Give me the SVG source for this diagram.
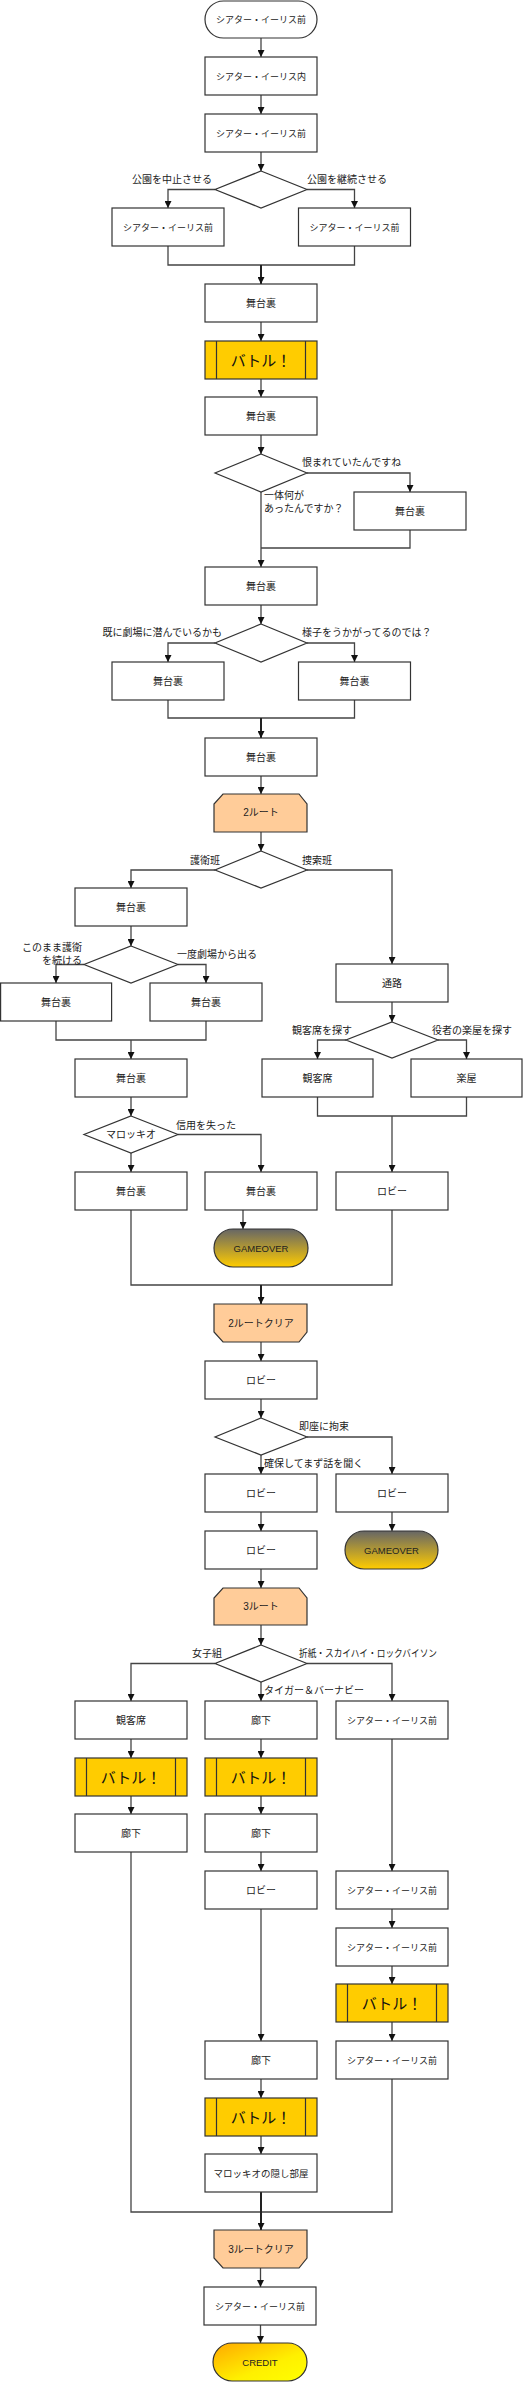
<svg xmlns="http://www.w3.org/2000/svg" width="530" height="2382" viewBox="0 0 530 2382">
<style>
text{font-family:"Liberation Sans","Noto Sans CJK JP",sans-serif;fill:#222;}
.t{font-size:10px;text-anchor:middle;}
.l9{font-size:9px;}
.lb{font-size:10px;}
.e{text-anchor:end;}
.big{font-size:15px;text-anchor:middle;fill:#111;}
.box{fill:#fff;stroke:#333;stroke-width:1.2;}
.bat{fill:#FFCC00;stroke:#333;stroke-width:1.2;}
.rt{fill:#FFCC99;stroke:#333;stroke-width:1.2;}
.dm{fill:#fff;stroke:#333;stroke-width:1.2;}
.c{fill:none;stroke:#444;stroke-width:1.3;}
.ca{fill:none;stroke:#444;stroke-width:1.3;marker-end:url(#ah);}
.cb{fill:none;stroke:#222;stroke-width:2;marker-end:url(#ah);}
</style>
<defs>
<marker id="ah" markerUnits="userSpaceOnUse" markerWidth="7" markerHeight="7" refX="7" refY="3.5" orient="auto"><path d="M0,0 L7,3.5 L0,7 z" fill="#111"/></marker>
<linearGradient id="go" x1="0" y1="0" x2="0" y2="1"><stop offset="0" stop-color="#666"/><stop offset="1" stop-color="#FFCC00"/></linearGradient>
<linearGradient id="cr" x1="0" y1="0" x2="1" y2="1"><stop offset="0" stop-color="#FFA800"/><stop offset="0.6" stop-color="#FFF000"/><stop offset="1" stop-color="#FFFF00"/></linearGradient>
</defs>
<rect width="530" height="2382" fill="#fff"/>

<g id="connectors">
<path class="ca" d="M261,38 V57"/>
<path class="ca" d="M261,95 V114"/>
<path class="ca" d="M261,152 V171"/>
<path class="ca" d="M215,189.5 H168 V208"/>
<path class="ca" d="M307,189.5 H354.5 V208"/>
<path class="c" d="M168,246 V265 H354.5 V246"/>
<path class="cb" d="M261,265 V284"/>
<path class="ca" d="M261,322 V341"/>
<path class="ca" d="M261,379 V397"/>
<path class="ca" d="M261,435 V454"/>
<path class="ca" d="M307,473 H410 V492"/>
<path class="ca" d="M261,492 V567"/>
<path class="c" d="M410,530 V548 H261"/>
<path class="ca" d="M261,605 V624"/>
<path class="ca" d="M215,643 H168 V662"/>
<path class="ca" d="M307,643 H354.5 V662"/>
<path class="c" d="M168,700 V718 H354.5 V700"/>
<path class="cb" d="M261,718 V738"/>
<path class="ca" d="M261,776 V794"/>
<path class="ca" d="M261,832 V851"/>
<path class="ca" d="M215,870 H131 V888"/>
<path class="ca" d="M307,870 H392 V964"/>
<path class="ca" d="M131,926 V946"/>
<path class="ca" d="M84,964.5 H56 V983"/>
<path class="ca" d="M178,964.5 H206 V983"/>
<path class="c" d="M56,1021 V1040 H206 V1021"/>
<path class="ca" d="M131,1040 V1059"/>
<path class="ca" d="M131,1097 V1116"/>
<path class="ca" d="M178,1134.5 H261 V1172"/>
<path class="ca" d="M131,1153 V1172"/>
<path class="ca" d="M392,1002 V1022"/>
<path class="ca" d="M346,1040 H317.5 V1059"/>
<path class="ca" d="M438,1040 H466.5 V1059"/>
<path class="c" d="M317.5,1097 V1116 H466.5 V1097"/>
<path class="ca" d="M392,1116 V1172"/>
<path class="ca" d="M243,1210 V1229"/>
<path class="c" d="M131,1210 V1285 H392 V1210"/>
<path class="cb" d="M261,1285 V1304"/>
<path class="ca" d="M261,1342 V1361"/>
<path class="ca" d="M261,1399 V1418"/>
<path class="ca" d="M307,1437 H392 V1474"/>
<path class="ca" d="M261,1455 V1474"/>
<path class="ca" d="M261,1512 V1531"/>
<path class="ca" d="M392,1512 V1531"/>
<path class="ca" d="M261,1569 V1588"/>
<path class="ca" d="M261,1625 V1645"/>
<path class="ca" d="M215,1663.5 H131 V1701"/>
<path class="ca" d="M307,1663.5 H392 V1701"/>
<path class="ca" d="M261,1682 V1701"/>
<path class="ca" d="M131,1739 V1758"/>
<path class="ca" d="M261,1739 V1758"/>
<path class="ca" d="M392,1739 V1871"/>
<path class="ca" d="M131,1796 V1814"/>
<path class="ca" d="M261,1796 V1814"/>
<path class="ca" d="M261,1852 V1871"/>
<path class="ca" d="M261,1909 V2041"/>
<path class="ca" d="M392,1909 V1928"/>
<path class="ca" d="M392,1966 V1984"/>
<path class="ca" d="M392,2022 V2041"/>
<path class="ca" d="M261,2079 V2098"/>
<path class="ca" d="M261,2136 V2154"/>
<path class="c" d="M131,1852 V2212 H392 V2079"/>
<path class="cb" d="M261,2192 V2230"/>
<path class="ca" d="M260.5,2268 V2287"/>
<path class="ca" d="M260.5,2325 V2343"/>
</g>

<g id="labels">
<text class="lb e" x="212" y="183">公園を中止させる</text>
<text class="lb" x="307" y="183">公園を継続させる</text>
<text class="lb" x="302" y="466">恨まれていたんですね</text>
<text class="lb" x="264" y="499">一体何が</text>
<text class="lb" x="264" y="512">あったんですか？</text>
<text class="lb e" x="222" y="636">既に劇場に潜んでいるかも</text>
<text class="lb" x="302" y="636">様子をうかがってるのでは？</text>
<text class="lb e" x="220" y="864">護衛班</text>
<text class="lb" x="302" y="864">捜索班</text>
<text class="lb e" x="82" y="951">このまま護衛</text>
<text class="lb e" x="82" y="964">を続ける</text>
<text class="lb" x="177" y="958">一度劇場から出る</text>
<text class="lb" x="176" y="1129">信用を失った</text>
<text class="lb e" x="352" y="1034">観客席を探す</text>
<text class="lb" x="432" y="1034">役者の楽屋を探す</text>
<text class="lb" x="299" y="1430">即座に拘束</text>
<text class="lb" x="264" y="1467">確保してまず話を聞く</text>
<text class="lb e" x="222" y="1657">女子組</text>
<text class="lb" x="299" y="1657" textLength="138" lengthAdjust="spacingAndGlyphs">折紙・スカイハイ・ロックバイソン</text>
<text class="lb" x="264" y="1694">タイガー＆バーナビー</text>
</g>

<g id="n1"><rect x="205" y="1" width="112" height="37" rx="18.5" class="box"/><text class="t l9" x="261" y="23">シアター・イーリス前</text></g>
<g id="n2"><rect x="205" y="57" width="112" height="38" class="box"/><text class="t l9" x="261" y="79.5">シアター・イーリス内</text></g>
<g id="n3"><rect x="205" y="114" width="112" height="38" class="box"/><text class="t l9" x="261" y="136.5">シアター・イーリス前</text></g>
<g id="d1"><polygon points="261,171 307,189.5 261,208 215,189.5" class="dm"/></g>
<g id="n4"><rect x="112" y="208" width="112" height="38" class="box"/><text class="t l9" x="168" y="230.5">シアター・イーリス前</text></g>
<g id="n5"><rect x="298.5" y="208" width="112" height="38" class="box"/><text class="t l9" x="354.5" y="230.5">シアター・イーリス前</text></g>
<g id="n6"><rect x="205" y="284" width="112" height="38" class="box"/><text class="t" x="261" y="306.5">舞台裏</text></g>
<g id="b1"><rect x="205" y="341" width="112" height="38" class="bat"/><path d="M216.5,341 V379 M305.5,341 V379" stroke="#333" stroke-width="1.2"/><text class="big" x="261" y="365.5">バトル！</text></g>
<g id="n7"><rect x="205" y="397" width="112" height="38" class="box"/><text class="t" x="261" y="419.5">舞台裏</text></g>
<g id="d2"><polygon points="261,454 307,473 261,492 215,473" class="dm"/></g>
<g id="n8"><rect x="354" y="492" width="112" height="38" class="box"/><text class="t" x="410" y="514.5">舞台裏</text></g>
<g id="n9"><rect x="205" y="567" width="112" height="38" class="box"/><text class="t" x="261" y="589.5">舞台裏</text></g>
<g id="d3"><polygon points="261,624 307,643 261,662 215,643" class="dm"/></g>
<g id="n10"><rect x="112" y="662" width="112" height="38" class="box"/><text class="t" x="168" y="684.5">舞台裏</text></g>
<g id="n11"><rect x="298.5" y="662" width="112" height="38" class="box"/><text class="t" x="354.5" y="684.5">舞台裏</text></g>
<g id="n12"><rect x="205" y="738" width="112" height="38" class="box"/><text class="t" x="261" y="760.5">舞台裏</text></g>
<g id="r1"><polygon points="223,794 299,794 307,804 307,832 214,832 214,804" class="rt"/><text class="t" x="261" y="816">2ルート</text></g>
<g id="d4"><polygon points="261,851 307,870 261,888 215,870" class="dm"/></g>
<g id="n13"><rect x="75" y="888" width="112" height="38" class="box"/><text class="t" x="131" y="910.5">舞台裏</text></g>
<g id="n14"><rect x="336" y="964" width="112" height="38" class="box"/><text class="t" x="392" y="986.5">通路</text></g>
<g id="d5"><polygon points="131,946 178,964.5 131,983 84,964.5" class="dm"/></g>
<g id="n15"><rect x="0.6" y="983" width="111" height="38" class="box"/><text class="t" x="56" y="1005.5">舞台裏</text></g>
<g id="n16"><rect x="150" y="983" width="112" height="38" class="box"/><text class="t" x="206" y="1005.5">舞台裏</text></g>
<g id="n17"><rect x="75" y="1059" width="112" height="38" class="box"/><text class="t" x="131" y="1081.5">舞台裏</text></g>
<g id="d6"><polygon points="131,1116 178,1134.5 131,1153 84,1134.5" class="dm"/><text class="t" x="131" y="1138">マロッキオ</text></g>
<g id="n18"><rect x="75" y="1172" width="112" height="38" class="box"/><text class="t" x="131" y="1194.5">舞台裏</text></g>
<g id="n19"><rect x="205" y="1172" width="112" height="38" class="box"/><text class="t" x="261" y="1194.5">舞台裏</text></g>
<g id="d7"><polygon points="392,1022 438,1040 392,1058 346,1040" class="dm"/></g>
<g id="n20"><rect x="262" y="1059" width="111" height="38" class="box"/><text class="t" x="317.5" y="1081.5">観客席</text></g>
<g id="n21"><rect x="411" y="1059" width="111" height="38" class="box"/><text class="t" x="466.5" y="1081.5">楽屋</text></g>
<g id="n22"><rect x="336" y="1172" width="112" height="38" class="box"/><text class="t" x="392" y="1194.5">ロビー</text></g>
<g id="g1"><rect x="214" y="1229" width="94" height="38" rx="19" fill="url(#go)" stroke="#333" stroke-width="1.2"/><text class="t" x="261" y="1251.5" style="font-size:9.5px">GAMEOVER</text></g>
<g id="r2"><polygon points="214,1304 307,1304 307,1332 299,1342 223,1342 214,1332" class="rt"/><text class="t" x="261" y="1326.5">2ルートクリア</text></g>
<g id="n23"><rect x="205" y="1361" width="112" height="38" class="box"/><text class="t" x="261" y="1383.5">ロビー</text></g>
<g id="d8"><polygon points="261,1418 307,1437 261,1455 215,1437" class="dm"/></g>
<g id="n24"><rect x="205" y="1474" width="112" height="38" class="box"/><text class="t" x="261" y="1496.5">ロビー</text></g>
<g id="n25"><rect x="336" y="1474" width="112" height="38" class="box"/><text class="t" x="392" y="1496.5">ロビー</text></g>
<g id="n26"><rect x="205" y="1531" width="112" height="38" class="box"/><text class="t" x="261" y="1553.5">ロビー</text></g>
<g id="g2"><rect x="345" y="1531" width="93" height="38" rx="19" fill="url(#go)" stroke="#333" stroke-width="1.2"/><text class="t" x="391.5" y="1553.5" style="font-size:9.5px">GAMEOVER</text></g>
<g id="r3"><polygon points="223,1588 299,1588 307,1598 307,1625 214,1625 214,1598" class="rt"/><text class="t" x="261" y="1610">3ルート</text></g>
<g id="d9"><polygon points="261,1645 307,1663.5 261,1682 215,1663.5" class="dm"/></g>
<g id="n27"><rect x="75" y="1701" width="112" height="38" class="box"/><text class="t" x="131" y="1723.5">観客席</text></g>
<g id="n28"><rect x="205" y="1701" width="112" height="38" class="box"/><text class="t" x="261" y="1723.5">廊下</text></g>
<g id="n29"><rect x="336" y="1701" width="112" height="38" class="box"/><text class="t l9" x="392" y="1723.5">シアター・イーリス前</text></g>
<g id="b2"><rect x="75" y="1758" width="112" height="38" class="bat"/><path d="M86.5,1758 V1796 M175.5,1758 V1796" stroke="#333" stroke-width="1.2"/><text class="big" x="131" y="1782.5">バトル！</text></g>
<g id="b3"><rect x="205" y="1758" width="112" height="38" class="bat"/><path d="M216.5,1758 V1796 M305.5,1758 V1796" stroke="#333" stroke-width="1.2"/><text class="big" x="261" y="1782.5">バトル！</text></g>
<g id="n30"><rect x="75" y="1814" width="112" height="38" class="box"/><text class="t" x="131" y="1836.5">廊下</text></g>
<g id="n31"><rect x="205" y="1814" width="112" height="38" class="box"/><text class="t" x="261" y="1836.5">廊下</text></g>
<g id="n32"><rect x="205" y="1871" width="112" height="38" class="box"/><text class="t" x="261" y="1893.5">ロビー</text></g>
<g id="n33"><rect x="336" y="1871" width="112" height="38" class="box"/><text class="t l9" x="392" y="1893.5">シアター・イーリス前</text></g>
<g id="n34"><rect x="336" y="1928" width="112" height="38" class="box"/><text class="t l9" x="392" y="1950.5">シアター・イーリス前</text></g>
<g id="b4"><rect x="336" y="1984" width="112" height="38" class="bat"/><path d="M347.5,1984 V2022 M436.5,1984 V2022" stroke="#333" stroke-width="1.2"/><text class="big" x="392" y="2008.5">バトル！</text></g>
<g id="n35"><rect x="205" y="2041" width="112" height="38" class="box"/><text class="t" x="261" y="2063.5">廊下</text></g>
<g id="n36"><rect x="336" y="2041" width="112" height="38" class="box"/><text class="t l9" x="392" y="2063.5">シアター・イーリス前</text></g>
<g id="b5"><rect x="205" y="2098" width="112" height="38" class="bat"/><path d="M216.5,2098 V2136 M305.5,2098 V2136" stroke="#333" stroke-width="1.2"/><text class="big" x="261" y="2122.5">バトル！</text></g>
<g id="n37"><rect x="205" y="2154" width="112" height="38" class="box"/><text class="t" x="261" y="2176.5" style="font-size:9.5px">マロッキオの隠し部屋</text></g>
<g id="r4"><polygon points="214,2230 307,2230 307,2258 299,2268 223,2268 214,2258" class="rt"/><text class="t" x="261" y="2252.5">3ルートクリア</text></g>
<g id="n38"><rect x="204" y="2287" width="112" height="38" class="box"/><text class="t l9" x="260" y="2309.5">シアター・イーリス前</text></g>
<g id="c1"><rect x="213" y="2343" width="94" height="38" rx="19" fill="url(#cr)" stroke="#333" stroke-width="1.2"/><text class="t" x="260" y="2365.5" style="font-size:9.5px">CREDIT</text></g>
</svg>
